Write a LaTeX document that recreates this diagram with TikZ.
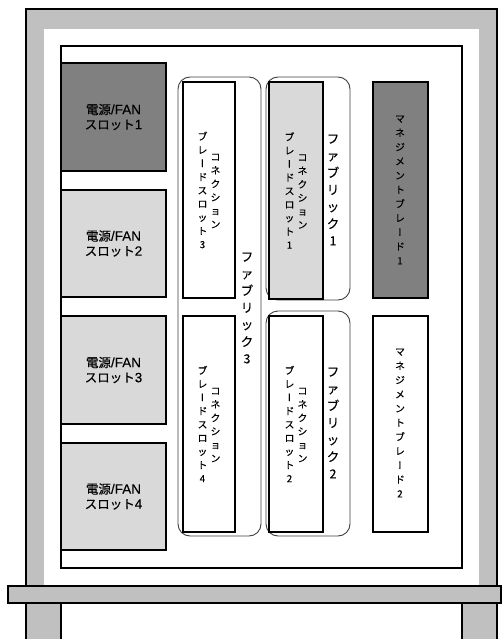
\documentclass[tikz,border=0pt]{standalone}
\usepackage{fontspec}
\setmainfont[FakeBold=0.3]{Noto Sans CJK JP}
\newfontfamily\jpv[RawFeature={+vert}, FakeBold=0.3]{Noto Sans CJK JP}
\newfontfamily\lat[FakeBold=0.2]{Liberation Sans}
\newcommand\vchoon{{\jpv ー}}
\newcommand\latx[1]{{\lat\fontsize{13.5}{15}\selectfont #1}}
\definecolor{framegray}{HTML}{C0C0C0}
\definecolor{darkfill}{HTML}{808080}
\definecolor{lightfill}{HTML}{D9D9D9}
\begin{document}
\begin{tikzpicture}[x=1pt,y=-1pt,
  thickline/.style={draw=black, line width=1.8pt},
  boxnode/.style={thickline, anchor=north west, outer sep=0pt, inner sep=0pt},
  fabricbox/.style={draw=black!75, line width=0.9pt, rounded corners=12pt, anchor=north west, outer sep=0pt, inner sep=0pt},
  psutext/.style={font=\fontsize{12.5}{15}\selectfont, align=center},
  vsmall/.style={font=\fontsize{9.8}{13.5}\selectfont, align=center, inner sep=0pt},
  vlarge/.style={font=\fontsize{12.5}{17}\selectfont, align=center, inner sep=0pt},
]
\useasboundingbox (0,0) rectangle (502,639);
% enclosure frame
\fill[framegray] (26,9) rectangle (497,586);
\draw[thickline] (26,586) -- (26,9) -- (497,9) -- (497,586);
\fill[white] (44,29) rectangle (479,586);
\draw[thickline, fill=white] (61,46) rectangle (462,568);
% legs and base bar
\draw[thickline, fill=framegray] (26,603) rectangle (61,650);
\draw[thickline, fill=framegray] (462,603) rectangle (497,650);
\draw[thickline, fill=framegray] (8,586) rectangle (501,603);

% power / fan slots
\node[boxnode, fill=darkfill, minimum width=105pt, minimum height=108pt, psutext] (psu1) at (61,63) {電源\latx{/FAN}\\スロット\latx{1}};
\node[boxnode, fill=lightfill, minimum width=105pt, minimum height=107pt, psutext] (psu2) at (61,190) {電源\latx{/FAN}\\スロット\latx{2}};
\node[boxnode, fill=lightfill, minimum width=105pt, minimum height=108pt, psutext] (psu3) at (61,316) {電源\latx{/FAN}\\スロット\latx{3}};
\node[boxnode, fill=lightfill, minimum width=105pt, minimum height=107pt, psutext] (psu4) at (61,443) {電源\latx{/FAN}\\スロット\latx{4}};

% fabric groups
\node[fabricbox, minimum width=83pt, minimum height=459pt] (fab3) at (178,77) {};
\node[fabricbox, minimum width=84pt, minimum height=223pt] (fab1) at (266,77) {};
\node[fabricbox, minimum width=84pt, minimum height=225pt] (fab2) at (266,311) {};

% connection blade slots
\node[boxnode, fill=white, minimum width=52pt, minimum height=216pt] (cs3) at (183,82) {};
\node[boxnode, fill=white, minimum width=52pt, minimum height=216pt] (cs4) at (183,316) {};
\node[boxnode, fill=lightfill, minimum width=54pt, minimum height=217pt] (cs1) at (269,82) {};
\node[boxnode, fill=white, minimum width=54pt, minimum height=216pt] (cs2) at (269,316) {};

\node[vsmall] (cs3a) at ([xshift=6.5pt,yshift=-1pt]cs3.center) {コ\\ネ\\ク\\シ\\ョ\\ン};
\node[vsmall] (cs3b) at ([xshift=-6.5pt]cs3.center) {ブ\\レ\\\vchoon\\ド\\ス\\ロ\\ッ\\ト\\3};
\node[vsmall] (cs4a) at ([xshift=6.5pt,yshift=-1pt]cs4.center) {コ\\ネ\\ク\\シ\\ョ\\ン};
\node[vsmall] (cs4b) at ([xshift=-6.5pt]cs4.center) {ブ\\レ\\\vchoon\\ド\\ス\\ロ\\ッ\\ト\\4};
\node[vsmall] (cs1a) at ([xshift=6.5pt,yshift=-1pt]cs1.center) {コ\\ネ\\ク\\シ\\ョ\\ン};
\node[vsmall] (cs1b) at ([xshift=-6.5pt]cs1.center) {ブ\\レ\\\vchoon\\ド\\ス\\ロ\\ッ\\ト\\1};
\node[vsmall] (cs2a) at ([xshift=6.5pt,yshift=-1pt]cs2.center) {コ\\ネ\\ク\\シ\\ョ\\ン};
\node[vsmall] (cs2b) at ([xshift=-6.5pt]cs2.center) {ブ\\レ\\\vchoon\\ド\\ス\\ロ\\ッ\\ト\\2};

% fabric labels
\node[vlarge] (fab3l) at (247,308) {フ\\ァ\\ブ\\リ\\ッ\\ク\\3};
\node[vlarge] (fab1l) at (333,190) {フ\\ァ\\ブ\\リ\\ッ\\ク\\1};
\node[vlarge] (fab2l) at (333,423) {フ\\ァ\\ブ\\リ\\ッ\\ク\\2};

% management blades
\node[boxnode, fill=darkfill, minimum width=55pt, minimum height=216pt] (mg1) at (373,82) {};
\node[boxnode, fill=white, minimum width=55pt, minimum height=216pt] (mg2) at (373,316) {};
\node[vsmall, font=\fontsize{9.8}{14.2}\selectfont] (mg1l) at (400,190) {マ\\ネ\\ジ\\メ\\ン\\ト\\ブ\\レ\\\vchoon\\ド\\1};
\node[vsmall, font=\fontsize{9.8}{14.2}\selectfont] (mg2l) at (400,423) {マ\\ネ\\ジ\\メ\\ン\\ト\\ブ\\レ\\\vchoon\\ド\\2};
\end{tikzpicture}
\end{document}
